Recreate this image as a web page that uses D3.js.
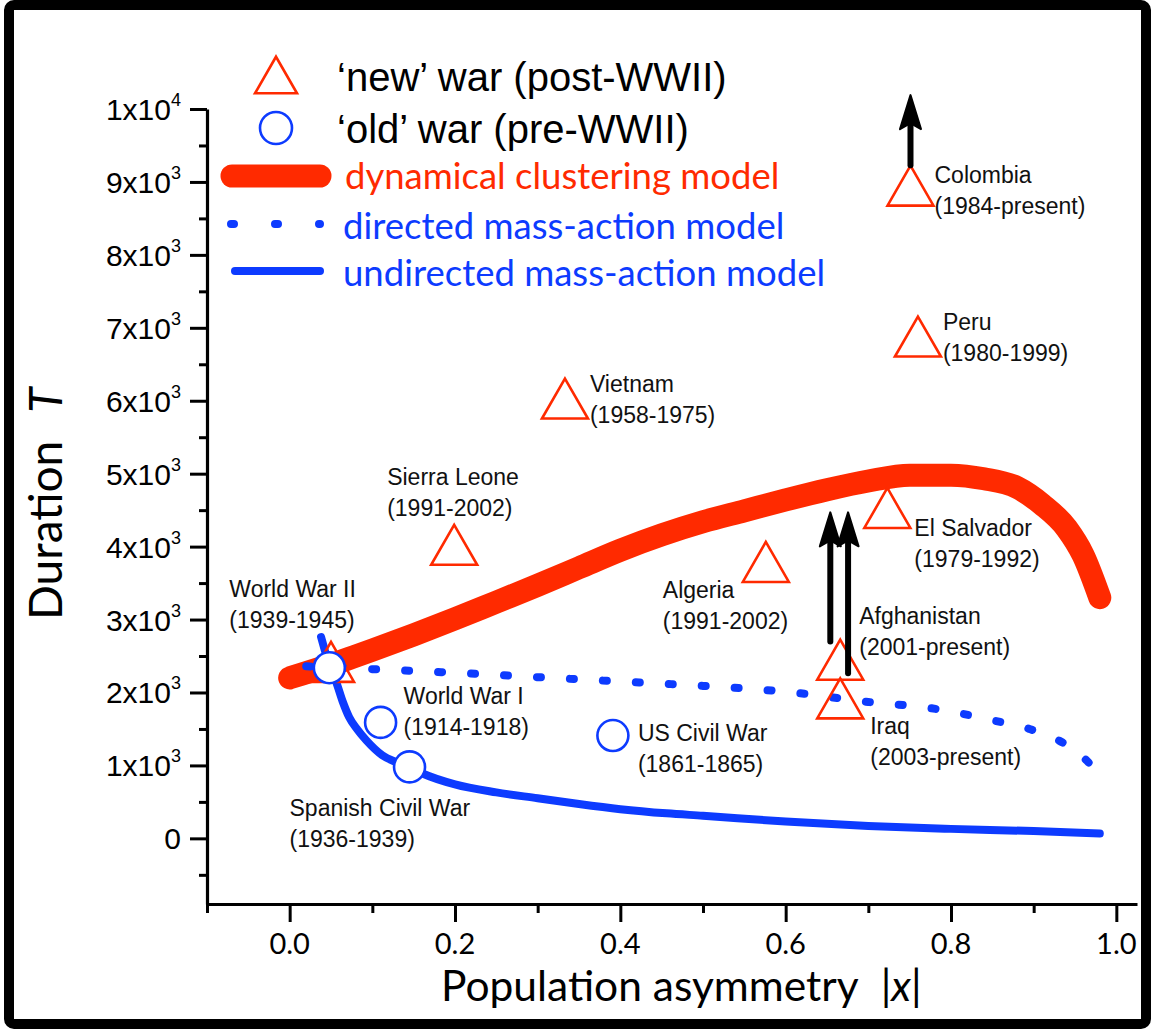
<!DOCTYPE html>
<html>
<head>
<meta charset="utf-8">
<script src="https://cdn.jsdelivr.net/npm/d3@7"></script>
<style>
  body { margin: 0; background: #fff; }
  svg { display: block; }
  .lbl { font-family: "Liberation Sans", Arial, sans-serif; font-size: 23px; fill: #111; }
</style>
</head>
<body>
<svg id="chart"></svg>
<script>
// ---- data ----
// dynamical clustering model (thick red curve)
const dynX = [0.0, 0.05, 0.1, 0.15, 0.2, 0.25, 0.3, 0.35, 0.4, 0.45, 0.5, 0.55, 0.6, 0.65, 0.7, 0.75, 0.8, 0.84, 0.88, 0.91, 0.94, 0.96, 0.98];
const dynY = [2200, 2380, 2580, 2790, 3010, 3240, 3470, 3710, 3950, 4160, 4340, 4490, 4640, 4780, 4900, 4980, 4980, 4930, 4810, 4580, 4250, 3880, 3300];

// directed mass-action model (blue dotted)
const dirX = [0.02, 0.1, 0.2, 0.3, 0.4, 0.5, 0.6, 0.7, 0.775, 0.85, 0.9, 0.94, 0.96, 0.98];
const dirY = [2360, 2320, 2270, 2210, 2150, 2090, 2010, 1870, 1786, 1620, 1480, 1280, 1110, 870];

// undirected mass-action model (blue solid)
const undX = [0.038, 0.045, 0.05, 0.056, 0.064, 0.072, 0.082, 0.093, 0.112, 0.13, 0.145, 0.16, 0.2, 0.25, 0.3, 0.35, 0.4, 0.456, 0.5, 0.6, 0.7, 0.8, 0.9, 0.98];
const undY = [2760, 2480, 2300, 2150, 1880, 1660, 1490, 1340, 1140, 1040, 975, 893, 740, 630, 550, 470, 400, 343, 310, 230, 170, 130, 100, 65];

// 'new' wars (triangles)
const newNames = ["Colombia", "Peru", "Vietnam", "Sierra Leone", "Algeria", "El Salvador", "Afghanistan", "Iraq", ""];
const newYears = ["(1984-present)", "(1980-1999)", "(1958-1975)", "(1991-2002)", "(1991-2002)", "(1979-1992)", "(2001-present)", "(2003-present)", ""];
const newX = [0.751, 0.760, 0.333, 0.199, 0.576, 0.723, 0.666, 0.666, 0.050];
const newY = [8950, 6880, 6030, 4025, 3790, 4530, 2450, 1920, 2420];

// 'old' wars (circles)
const oldNames = ["World War II", "World War I", "Spanish Civil War", "US Civil War"];
const oldYears = ["(1939-1945)", "(1914-1918)", "(1936-1939)", "(1861-1865)"];
const oldX = [0.048, 0.110, 0.145, 0.391];
const oldY = [2340, 1590, 980, 1410];

// lower-bound arrows (ongoing wars)
const arrowX = [0.751, 0.654, 0.6755];
const arrowFrom = [9230, 2700, 2265];
const arrowTo = [10190, 4470, 4470];

// ticks
const xTicks = [0, 0.2, 0.4, 0.6, 0.8, 1.0];
const xTickLabels = ["0.0", "0.2", "0.4", "0.6", "0.8", "1.0"];
const xMinor = [-0.1, 0.1, 0.3, 0.5, 0.7, 0.9];
const yTicks = [0, 1000, 2000, 3000, 4000, 5000, 6000, 7000, 8000, 9000, 10000];
const yTickLabels = ["0", "1x10^3", "2x10^3", "3x10^3", "4x10^3", "5x10^3", "6x10^3", "7x10^3", "8x10^3", "9x10^3", "1x10^4"];
const yMinor = [-500, 500, 1500, 2500, 3500, 4500, 5500, 6500, 7500, 8500, 9500];

// ---- layout (label offsets from their marker, px) ----
const newLabelOffset = [[24, -3], [25, -7], [25, -7], [-67, -60], [-103, 36], [27, 28], [19, -36], [30, 36], [0, 0]];
const oldLabelOffset = [[-100, -71], [23, -18], [-120, 49], [25, 5]];

const W = 1151, H = 1029;
const red = "#ff2a00", blue = "#0d3bff";
const svg = d3.select("#chart").attr("width", W).attr("height", H);

const x = d3.scaleLinear().domain([-0.1, 1.025]).range([207, 1137]);
const y = d3.scaleLinear().domain([-900, 10000]).range([904, 109]);

// frame
svg.append("rect")
  .attr("x", 9).attr("y", 5).attr("width", 1137).attr("height", 1019)
  .attr("rx", 5).attr("fill", "#fff").attr("stroke", "#000").attr("stroke-width", 10);

// axes
svg.append("g").attr("transform", "translate(207,0)")
  .call(d3.axisLeft(y).tickValues(yTicks).tickSize(17).tickSizeOuter(0).tickFormat(""));
svg.append("g").attr("transform", "translate(207,0)")
  .call(d3.axisLeft(y).tickValues(yMinor).tickSize(8).tickSizeOuter(0).tickFormat(""))
  .select(".domain").remove();
svg.append("g").attr("transform", "translate(0,904)")
  .call(d3.axisBottom(x).tickValues(xTicks).tickSize(18).tickSizeOuter(0).tickFormat(""));
svg.append("g").attr("transform", "translate(0,904)")
  .call(d3.axisBottom(x).tickValues(xMinor).tickSize(9).tickSizeOuter(0).tickFormat(""))
  .select(".domain").remove();
svg.selectAll(".domain").attr("stroke-width", 3.2);
svg.selectAll(".tick line").attr("stroke-width", 3);

// y tick labels with superscripts
yTicks.forEach((v, i) => {
  const parts = yTickLabels[i].split("^");
  const t = svg.append("text")
    .attr("x", 181).attr("y", y(v) + 11)
    .attr("text-anchor", "end")
    .style("font-family", "'Liberation Sans', Arial, sans-serif")
    .style("font-size", "30px").attr("fill", "#000");
  t.append("tspan").text(parts[0]);
  if (parts[1]) t.append("tspan").attr("dy", -14).style("font-size", "18px").text(parts[1]);
});

// x tick labels
xTicks.forEach((v, i) => {
  svg.append("text")
    .attr("x", x(v)).attr("y", 954)
    .attr("text-anchor", "middle")
    .style("font-family", "Lato, 'Open Sans', sans-serif")
    .style("font-size", "29px").attr("fill", "#000")
    .text(xTickLabels[i]);
});

// axis titles
const xt = svg.append("text").attr("x", 441).attr("y", 1001)
  .style("font-family", "Lato, 'Open Sans', sans-serif").style("font-size", "42.5px").attr("fill", "#000");
xt.append("tspan").text("Population asymmetry");
xt.append("tspan").attr("dx", 22).text("|");
xt.append("tspan").style("font-style", "italic").text("x");
xt.append("tspan").text("|");

const yt = svg.append("text").attr("transform", "translate(62,620) rotate(-90)")
  .attr("text-anchor", "start")
  .style("font-family", "Lato, 'Open Sans', sans-serif").style("font-size", "46px").attr("fill", "#000");
yt.append("tspan").text("Duration");
yt.append("tspan").attr("dx", 28).style("font-style", "italic").text("T");

// model curves
const line = d3.line().x(d => x(d[0])).y(d => y(d[1])).curve(d3.curveMonotoneX);
svg.append("path").datum(d3.zip(dynX, dynY)).attr("d", line)
  .attr("fill", "none").attr("stroke", red).attr("stroke-width", 23)
  .attr("stroke-linecap", "round").attr("stroke-linejoin", "round");
svg.append("path").datum(d3.zip(dirX, dirY)).attr("d", line)
  .attr("fill", "none").attr("stroke", blue).attr("stroke-width", 8)
  .attr("stroke-linecap", "round").attr("stroke-dasharray", "4 29");
svg.append("path").datum(d3.zip(undX, undY)).attr("d", line)
  .attr("fill", "none").attr("stroke", blue).attr("stroke-width", 8)
  .attr("stroke-linecap", "round");

// markers
const tri = (s) => `M0,${-s * 0.87 / 2}L${s / 2},${s * 0.87 / 2}L${-s / 2},${s * 0.87 / 2}Z`;
svg.append("g").selectAll("path").data(d3.range(newX.length)).join("path")
  .attr("transform", i => `translate(${x(newX[i])},${y(newY[i])})`)
  .attr("d", tri(46)).attr("fill", "none").attr("stroke", red).attr("stroke-width", 2.6);
svg.append("g").selectAll("circle").data(d3.range(oldX.length)).join("circle")
  .attr("cx", i => x(oldX[i])).attr("cy", i => y(oldY[i])).attr("r", 15.5)
  .attr("fill", "#fff").attr("stroke", blue).attr("stroke-width", 2.6);

// labels
function addLabel(px, py, name, years) {
  if (!name) return;
  const t = svg.append("text").attr("class", "lbl");
  t.append("tspan").attr("x", px).attr("y", py).text(name);
  t.append("tspan").attr("x", px).attr("y", py + 31).text(years);
}
newNames.forEach((n, i) => addLabel(x(newX[i]) + newLabelOffset[i][0], y(newY[i]) + newLabelOffset[i][1], n, newYears[i]));
oldNames.forEach((n, i) => addLabel(x(oldX[i]) + oldLabelOffset[i][0], y(oldY[i]) + oldLabelOffset[i][1], n, oldYears[i]));

// arrows
arrowX.forEach((v, i) => {
  const ax = x(v), y0 = y(arrowFrom[i]), y1 = y(arrowTo[i]);
  svg.append("line").attr("x1", ax).attr("x2", ax).attr("y1", y0).attr("y2", y1 + 20)
    .attr("stroke", "#000").attr("stroke-width", 6).attr("stroke-linecap", "round");
  svg.append("path")
    .attr("d", `M${ax},${y1}L${ax + 10.5},${y1 + 34}L${ax},${y1 + 28}L${ax - 10.5},${y1 + 34}Z`)
    .attr("fill", "#000").attr("stroke", "#000").attr("stroke-width", 2).attr("stroke-linejoin", "round");
});

// legend
const lg = svg.append("g");
lg.append("path").attr("transform", "translate(276,75)").attr("d", tri(42))
  .attr("fill", "none").attr("stroke", red).attr("stroke-width", 2.6);
lg.append("circle").attr("cx", 276).attr("cy", 128).attr("r", 16)
  .attr("fill", "#fff").attr("stroke", blue).attr("stroke-width", 2.6);
lg.append("line").attr("x1", 232).attr("x2", 320).attr("y1", 176).attr("y2", 176)
  .attr("stroke", red).attr("stroke-width", 23).attr("stroke-linecap", "round");
lg.append("line").attr("x1", 231).attr("x2", 320).attr("y1", 224).attr("y2", 224)
  .attr("stroke", blue).attr("stroke-width", 8).attr("stroke-linecap", "round").attr("stroke-dasharray", "3 41");
lg.append("line").attr("x1", 235).attr("x2", 320).attr("y1", 271).attr("y2", 271)
  .attr("stroke", blue).attr("stroke-width", 8).attr("stroke-linecap", "round");

const legendText = [
  {t: "\u2018new\u2019 war (post-WWII)", y: 91, c: "#000", f: "'Liberation Sans', Arial, sans-serif", s: 40, x: 337},
  {t: "\u2018old\u2019 war (pre-WWII)", y: 143, c: "#000", f: "'Liberation Sans', Arial, sans-serif", s: 40, x: 337},
  {t: "dynamical clustering model", y: 189, c: red, f: "Lato, 'Open Sans', sans-serif", s: 36.5, x: 345},
  {t: "directed mass-action model", y: 239, c: blue, f: "Lato, 'Open Sans', sans-serif", s: 36.5, x: 343},
  {t: "undirected mass-action model", y: 286, c: blue, f: "Lato, 'Open Sans', sans-serif", s: 36.5, x: 343}
];
legendText.forEach(d => {
  lg.append("text").attr("x", d.x).attr("y", d.y).attr("fill", d.c)
    .style("font-family", d.f).style("font-size", d.s + "px").text(d.t);
});
</script>
</body>
</html>
